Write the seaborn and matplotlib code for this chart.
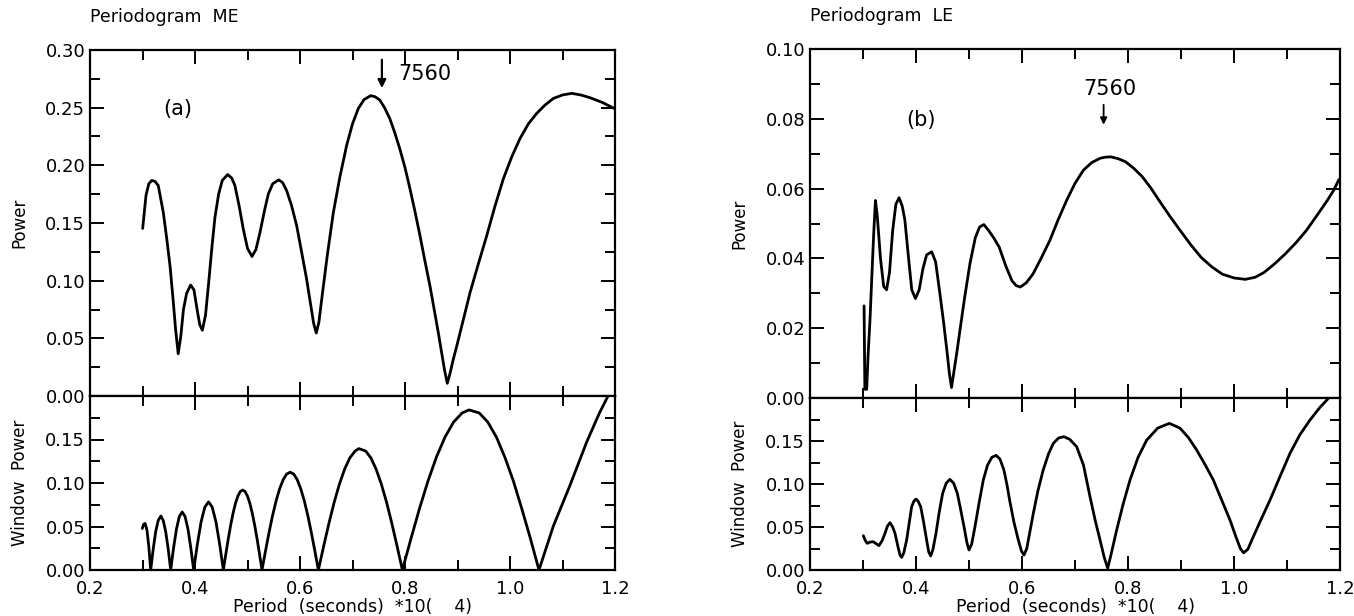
import numpy as np
import pandas as pd
import matplotlib
matplotlib.use("Agg")
import matplotlib.pyplot as plt
import seaborn as sns
from matplotlib.ticker import MultipleLocator, FixedLocator, FormatStrFormatter, NullFormatter

# ---------------- data ----------------
me_period = [0.3003, 0.3067, 0.312, 0.3175, 0.324, 0.330, 0.3397, 0.346, 0.3524, 0.358, 0.363, 0.368,
             0.373, 0.378, 0.384, 0.3917, 0.398, 0.404, 0.409, 0.414, 0.420, 0.426, 0.432, 0.438, 0.445,
             0.452, 0.4622, 0.470, 0.476, 0.484, 0.492, 0.500, 0.5086, 0.516, 0.5238, 0.532, 0.5397,
             0.548, 0.5594, 0.567, 0.5746, 0.584, 0.5937, 0.603, 0.6127, 0.620, 0.626, 0.631, 0.636,
             0.6413, 0.652, 0.6635, 0.676, 0.6889, 0.700, 0.7111, 0.722, 0.7346, 0.743, 0.752, 0.761,
             0.771, 0.780, 0.790, 0.800, 0.8095, 0.819, 0.8286, 0.838, 0.8476, 0.856, 0.8635, 0.870,
             0.8755, 0.8806, 0.886, 0.8915, 0.8984, 0.911, 0.9238, 0.940, 0.9556, 0.971, 0.9873, 1.003,
             1.019, 1.035, 1.0508, 1.066, 1.0825, 1.100, 1.1175, 1.135, 1.152, 1.176, 1.2]
me_power = [0.1453, 0.174, 0.184, 0.1869, 0.186, 0.1825, 0.159, 0.137, 0.113, 0.085, 0.058, 0.0366,
            0.052, 0.075, 0.089, 0.0962, 0.092, 0.075, 0.062, 0.057, 0.070, 0.098, 0.128, 0.155, 0.175,
            0.187, 0.192, 0.189, 0.1825, 0.165, 0.1447, 0.128, 0.121, 0.127, 0.1418, 0.160, 0.1752,
            0.184, 0.1874, 0.185, 0.178, 0.165, 0.1476, 0.125, 0.1011, 0.080, 0.063, 0.0546, 0.064,
            0.0837, 0.122, 0.159, 0.190, 0.2174, 0.236, 0.2493, 0.257, 0.2604, 0.2595, 0.2566, 0.250,
            0.2406, 0.229, 0.2145, 0.198, 0.1796, 0.160, 0.1389, 0.117, 0.0953, 0.074, 0.0547, 0.037,
            0.022, 0.011, 0.020, 0.031, 0.043, 0.066, 0.0895, 0.115, 0.1389, 0.164, 0.1883, 0.207,
            0.2232, 0.236, 0.245, 0.252, 0.258, 0.261, 0.2624, 0.261, 0.2587, 0.2545, 0.249]

me_win_period = [0.2997, 0.3020, 0.3050, 0.3085, 0.3120, 0.3156,
                 0.3204, 0.3251, 0.3299, 0.3350, 0.3395, 0.3442, 0.3490, 0.3537,
                 0.3592, 0.3647, 0.3701, 0.3756, 0.3811, 0.3866, 0.3920, 0.3975,
                 0.4046, 0.4116, 0.4187, 0.4258, 0.4328, 0.4399, 0.4469, 0.4540,
                 0.4586, 0.4632, 0.4678, 0.4724, 0.4770, 0.4816, 0.4862, 0.4908,
                 0.4954, 0.5000, 0.5046, 0.5092, 0.5138, 0.5184, 0.5230, 0.5276,
                 0.5343, 0.5410, 0.5477, 0.5545, 0.5612, 0.5680, 0.5746, 0.5813,
                 0.5880, 0.5947, 0.6014, 0.6082, 0.6149, 0.6216, 0.6283, 0.6350,
                 0.6450, 0.6550, 0.6650, 0.6750, 0.6850, 0.6950, 0.7050, 0.7120,
                 0.7250, 0.7350, 0.7450, 0.7550, 0.7650, 0.7750, 0.7850, 0.7950,
                 0.8113, 0.8275, 0.8438, 0.8600, 0.8763, 0.8925, 0.9088, 0.9220,
                 0.9414, 0.9577, 0.9740, 0.9900, 1.0064, 1.0225, 1.0390, 1.0552,
                 1.0825, 1.1140, 1.1460, 1.1700, 1.1900]
me_win_power = [0.0477, 0.0525, 0.0535, 0.0460, 0.0270, 0.0,
                0.024, 0.044, 0.057, 0.062, 0.057, 0.044, 0.024, 0.0,
                0.0255, 0.047, 0.0615, 0.0667, 0.0615, 0.047, 0.0255, 0.0,
                0.030, 0.0553, 0.0723, 0.0783, 0.0723, 0.0553, 0.030, 0.0,
                0.0179, 0.0352, 0.0511, 0.065, 0.0764, 0.0849, 0.0902, 0.0919,
                0.0902, 0.0849, 0.0764, 0.065, 0.0511, 0.0352, 0.0179, 0.0,
                0.0219, 0.043, 0.0625, 0.0795, 0.0934, 0.1038, 0.1103, 0.1124,
                0.1103, 0.1038, 0.0934, 0.0795, 0.0625, 0.043, 0.0219, 0.0,
                0.0272, 0.0534, 0.0776, 0.0986, 0.1159, 0.1289, 0.1368, 0.1395,
                0.1368, 0.1289, 0.1159, 0.0986, 0.0776, 0.0534, 0.0272, 0.0,
                0.0359, 0.0704, 0.1023, 0.130, 0.1529, 0.170, 0.1805, 0.184,
                0.1805, 0.170, 0.1529, 0.130, 0.1023, 0.0704, 0.0359, 0.0,
                0.0504, 0.0969, 0.147, 0.180, 0.204]

le_period = [0.302, 0.3035, 0.307, 0.3095, 0.3132, 0.317, 0.3205, 0.3235, 0.327, 0.333, 0.339, 0.3445,
             0.350, 0.356, 0.362, 0.368, 0.374, 0.379, 0.386, 0.392, 0.399, 0.406, 0.413, 0.420,
             0.4296, 0.437, 0.445, 0.4515, 0.458, 0.463, 0.467, 0.471, 0.477, 0.483, 0.492, 0.5019,
             0.512, 0.520, 0.528, 0.537, 0.547, 0.5571, 0.569, 0.581, 0.589, 0.597, 0.608, 0.6206,
             0.636, 0.6524, 0.668, 0.6841, 0.700, 0.7159, 0.732, 0.7476, 0.757, 0.7675, 0.781, 0.7952,
             0.811, 0.827, 0.843, 0.8587, 0.878, 0.8984, 0.918, 0.938, 0.958, 0.9778, 1.000, 1.0214,
             1.040, 1.057, 1.077, 1.0968, 1.117, 1.1365, 1.156, 1.176, 1.188, 1.198]
le_power = [0.0264, 0.0025, 0.0025, 0.012, 0.0224, 0.036, 0.048, 0.0566, 0.052, 0.040, 0.032, 0.031,
            0.036, 0.048, 0.0555, 0.0574, 0.055, 0.051, 0.040, 0.031, 0.0285, 0.031, 0.037, 0.041,
            0.0419, 0.039, 0.030, 0.0224, 0.014, 0.007, 0.003, 0.007, 0.013, 0.0195, 0.029, 0.0386,
            0.046, 0.049, 0.0497, 0.048, 0.0458, 0.0432, 0.038, 0.0336, 0.0322, 0.0318, 0.0330, 0.0355,
            0.040, 0.0451, 0.051, 0.0566, 0.0615, 0.0653, 0.0675, 0.0687, 0.0690, 0.0691, 0.0686, 0.0677,
            0.0658, 0.0634, 0.0602, 0.0566, 0.0523, 0.048, 0.0440, 0.0403, 0.0376, 0.0355, 0.0344, 0.034,
            0.0346, 0.036, 0.0385, 0.0413, 0.0445, 0.048, 0.0522, 0.0566, 0.0595, 0.0626]

le_win_period = [0.3006, 0.3045, 0.3081, 0.3135, 0.3193, 0.3250, 0.3300, 0.3360, 0.3415, 0.3460,
                 0.3510, 0.3560, 0.3604, 0.3660, 0.3700, 0.3730, 0.3770, 0.3824, 0.3870, 0.3918,
                 0.3960, 0.4000, 0.4040, 0.4088, 0.4140, 0.4200, 0.4240, 0.4277, 0.4320, 0.4377,
                 0.4440, 0.4503, 0.4570, 0.4640, 0.4710, 0.4780, 0.4840, 0.4906, 0.4960, 0.5000,
                 0.5050, 0.5113, 0.5190, 0.5270, 0.5350, 0.5430, 0.5510, 0.5585, 0.5660, 0.5720,
                 0.5770, 0.5850, 0.5930, 0.5990, 0.6038, 0.6090, 0.6214, 0.6300, 0.6400, 0.6500,
                 0.6591, 0.6690, 0.6790, 0.6900, 0.7031, 0.7160, 0.7283, 0.7380, 0.7472, 0.7550,
                 0.7617, 0.7680, 0.7786, 0.7910, 0.8038, 0.8190, 0.8352, 0.8560, 0.8780, 0.8980,
                 0.9140, 0.9296, 0.9450, 0.9610, 0.9770, 0.9925, 1.0040, 1.0120, 1.0180, 1.0260,
                 1.0365, 1.0520, 1.0680, 1.0870, 1.1057, 1.1240, 1.1434, 1.1620, 1.1810, 1.2000]
le_win_power = [0.0399, 0.0340, 0.0310, 0.0325, 0.0329, 0.0305, 0.0283, 0.0340, 0.0426, 0.0510,
                0.0550, 0.0500, 0.0426, 0.0270, 0.0170, 0.0147, 0.0200, 0.0350, 0.0540, 0.0736,
                0.0800, 0.0825, 0.0800, 0.0736, 0.0570, 0.0350, 0.0210, 0.0163, 0.0240, 0.0426,
                0.0680, 0.0891, 0.1010, 0.1054, 0.1010, 0.0891, 0.0710, 0.0504, 0.0320, 0.0233,
                0.0300, 0.0504, 0.0780, 0.1047, 0.1220, 0.1310, 0.1333, 0.1290, 0.1160, 0.0980,
                0.0800, 0.0550, 0.0350, 0.0220, 0.0174, 0.0250, 0.0660, 0.0920, 0.1163, 0.1350,
                0.1473, 0.1535, 0.1550, 0.1520, 0.1434, 0.1220, 0.0853, 0.0580, 0.0350, 0.0150,
                0.0020, 0.0180, 0.0465, 0.0770, 0.1047, 0.1310, 0.1510, 0.1650, 0.1705, 0.1650,
                0.1540, 0.1395, 0.1230, 0.1047, 0.0810, 0.0580, 0.0380, 0.0250, 0.0200, 0.0240,
                0.0388, 0.0600, 0.0814, 0.1090, 0.1357, 0.1570, 0.1744, 0.1890, 0.2015, 0.2080]

x_ticks = [0.2, 0.4, 0.6, 0.8, 1.0, 1.2]
x_tick_labels = ["0.2", "0.4", "0.6", "0.8", "1.0", "1.2"]
peak_label = "7560"

# ---------------- figure ----------------
sns.set_style("ticks")
plt.rcParams["font.family"] = ["DejaVu Sans"]
plt.rcParams["axes.linewidth"] = 1.6
for key in ["text.color", "axes.labelcolor", "xtick.color", "ytick.color", "xtick.labelcolor", "ytick.labelcolor"]:
    plt.rcParams[key] = "black"

W, H = 1354, 616
fig = plt.figure(figsize=(W / 100, H / 100), dpi=100)

def rect(x0, x1, ytop, ybot):
    return [x0 / W, 1 - ybot / H, (x1 - x0) / W, (ybot - ytop) / H]

axL_top = fig.add_axes(rect(90, 615, 50, 396))
axL_bot = fig.add_axes(rect(90, 615, 396, 570))
axR_top = fig.add_axes(rect(810, 1340, 49, 398))
axR_bot = fig.add_axes(rect(810, 1340, 398, 570))

def style(ax, ymaj, ymin, ylim, yfmt, bottom_labels):
    ax.set_xlim(0.2, 1.2)
    ax.set_ylim(*ylim)
    ax.xaxis.set_major_locator(FixedLocator(x_ticks))
    ax.xaxis.set_minor_locator(MultipleLocator(0.1))
    if isinstance(ymaj, list):
        ax.yaxis.set_major_locator(FixedLocator(ymaj))
    else:
        ax.yaxis.set_major_locator(MultipleLocator(ymaj))
    ax.yaxis.set_minor_locator(MultipleLocator(ymin))
    ax.yaxis.set_major_formatter(FormatStrFormatter(yfmt))
    ax.tick_params(which="both", direction="in", top=True, right=True,
                   width=1.4, colors="black", labelcolor="black", labelsize=13)
    ax.tick_params(which="major", length=10)
    ax.tick_params(which="minor", length=7)
    ax.tick_params(axis="x", which="major", pad=7)
    if bottom_labels:
        ax.set_xticklabels(x_tick_labels)
    else:
        ax.xaxis.set_major_formatter(NullFormatter())
    for s in ax.spines.values():
        s.set_color("black")
        s.set_linewidth(1.6)

# ---------------- ME ----------------
sns.lineplot(x=me_period, y=me_power, ax=axL_top, color="black", linewidth=2.0,
             sort=False, estimator=None)
style(axL_top, 0.05, 0.025, (0, 0.30), "%.2f", False)
axL_top.set_ylabel("Power", fontsize=12, labelpad=12)
axL_top.set_xlabel("")
axL_top.set_title("Periodogram  ME", loc="left", fontsize=12.5, pad=20)
axL_top.text(0.368, 0.249, "(a)", fontsize=15, ha="center", va="center")
axL_top.annotate("", xy=(0.756, 0.2645), xytext=(0.756, 0.294),
                 arrowprops=dict(arrowstyle="-|>", color="black", lw=1.6, mutation_scale=12))
axL_top.text(0.787, 0.279, peak_label, fontsize=15, ha="left", va="center")

sns.lineplot(x=me_win_period, y=me_win_power, ax=axL_bot, color="black", linewidth=2.0,
             sort=False, estimator=None)
style(axL_bot, [0.0, 0.05, 0.10, 0.15], 0.025, (0, 0.20), "%.2f", True)
axL_bot.set_ylabel("Window  Power", fontsize=12, labelpad=12)
axL_bot.set_xlabel("Period  (seconds)  *10(    4)", fontsize=12.5, labelpad=0)

# ---------------- LE ----------------
sns.lineplot(x=le_period, y=le_power, ax=axR_top, color="black", linewidth=2.0,
             sort=False, estimator=None)
style(axR_top, 0.02, 0.01, (0, 0.10), "%.2f", False)
axR_top.set_ylabel("Power", fontsize=12, labelpad=12)
axR_top.set_xlabel("")
axR_top.set_title("Periodogram  LE", loc="left", fontsize=12.5, pad=20)
axR_top.text(0.410, 0.0797, "(b)", fontsize=15, ha="center", va="center")
axR_top.annotate("", xy=(0.754, 0.0775), xytext=(0.754, 0.0848),
                 arrowprops=dict(arrowstyle="-|>", color="black", lw=1.3, mutation_scale=10))
axR_top.text(0.766, 0.0886, peak_label, fontsize=15, ha="center", va="center")

sns.lineplot(x=le_win_period, y=le_win_power, ax=axR_bot, color="black", linewidth=2.0,
             sort=False, estimator=None)
style(axR_bot, [0.0, 0.05, 0.10, 0.15], 0.025, (0, 0.20), "%.2f", True)
axR_bot.set_ylabel("Window  Power", fontsize=12, labelpad=12)
axR_bot.set_xlabel("Period  (seconds)  *10(    4)", fontsize=12.5, labelpad=0)

fig.savefig("out.png", dpi=100, facecolor="white")
